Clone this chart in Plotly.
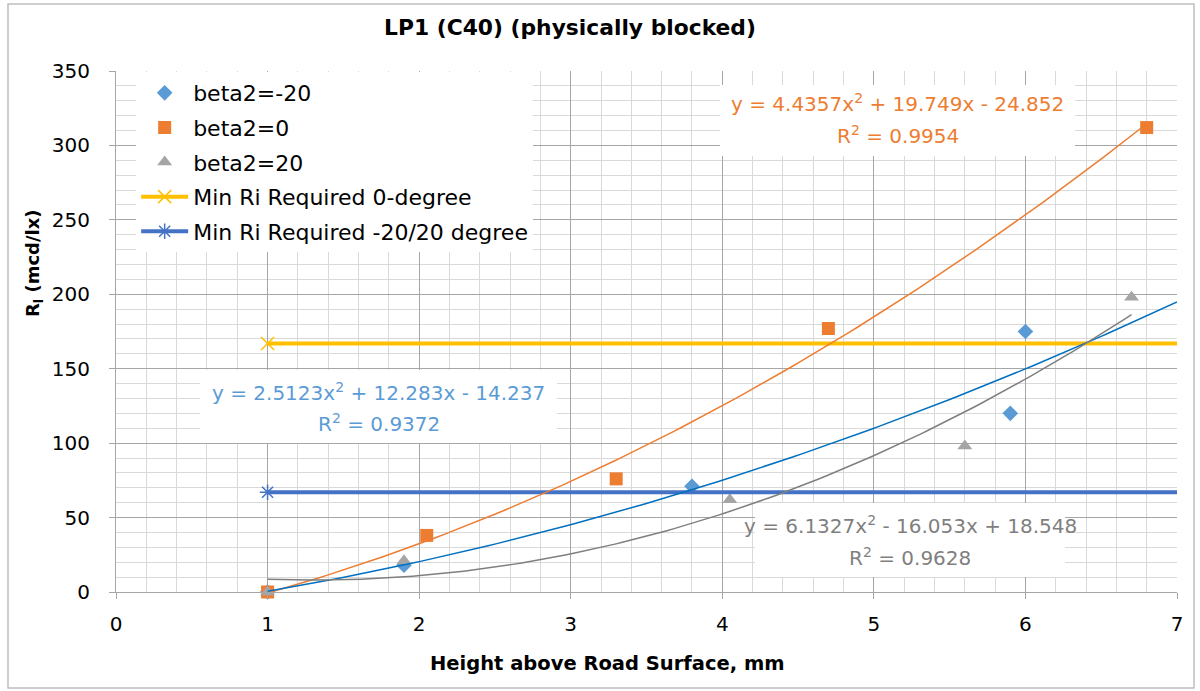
import plotly.graph_objects as go
import numpy as np

# ---- data ----
x_m20 = [1, 1.9, 3.8, 5.9, 6.0]
y_m20 = [0, 18, 71, 120, 175]
x_0 = [1, 2.05, 3.3, 4.7, 6.8]
y_0 = [0, 38, 76, 177, 312]
x_20 = [1, 1.9, 4.05, 5.6, 6.7]
y_20 = [0, 21, 62, 98, 198]

min_req_0_x = [1, 8]
min_req_0_y = [167, 167]
min_req_20_x = [1, 8]
min_req_20_y = [67, 67]

# trendline coefficients (a, b, c) for y = a x^2 + b x + c, and x-span
coef_m20 = (2.5123, 12.283, -14.237)
coef_0 = (4.4357, 19.749, -24.852)
coef_20 = (6.1327, -16.053, 18.548)
r2_m20 = "0.9372"
r2_0 = "0.9954"
r2_20 = "0.9628"
span_m20 = (1, 7)
span_0 = (1, 6.8)
span_20 = (1, 6.7)

C_BLUE = "#5B9BD5"
C_ORANGE = "#ED7D31"
C_GRAY = "#A5A5A5"
C_YELLOW = "#FFC000"
C_DBLUE = "#4472C4"
FONT = "DejaVu Sans"

def trend(coef, span):
    xs = np.linspace(span[0], span[1], 120)
    a, b, c = coef
    return xs, a * xs**2 + b * xs + c

fig = go.Figure()
fig.add_trace(go.Scatter(x=x_m20, y=y_m20, mode="markers", name="beta2=-20", legendgroup="g1",
                         marker=dict(symbol="diamond", size=12, color=C_BLUE), cliponaxis=False))
fig.add_trace(go.Scatter(x=x_0, y=y_0, mode="markers", name="beta2=0", legendgroup="g2",
                         marker=dict(symbol="square", size=13, color=C_ORANGE), cliponaxis=False))
fig.add_trace(go.Scatter(x=x_20, y=y_20, mode="markers", name="beta2=20", legendgroup="g3",
                         marker=dict(symbol="triangle-up", size=13, color=C_GRAY), cliponaxis=False))
fig.add_trace(go.Scatter(x=min_req_0_x, y=min_req_0_y, mode="lines+markers", name="Min Ri Required 0-degree",
                         legendgroup="g4", line=dict(color=C_YELLOW, width=4),
                         marker=dict(symbol="x-thin", size=13, color=C_YELLOW, line=dict(color=C_YELLOW, width=1.5))))
fig.add_trace(go.Scatter(x=min_req_20_x, y=min_req_20_y, mode="lines+markers", name="Min Ri Required -20/20 degree",
                         legendgroup="g5", line=dict(color=C_DBLUE, width=4),
                         marker=dict(symbol="asterisk-open", size=13, color=C_DBLUE, line=dict(color=C_DBLUE, width=1.5))))

for coef, span, col in [(coef_0, span_0, C_ORANGE), (coef_m20, span_m20, "#0070C0"), (coef_20, span_20, "#7F7F7F")]:
    tx, ty = trend(coef, span)
    fig.add_trace(go.Scatter(x=tx, y=ty, mode="lines", showlegend=False,
                             line=dict(color=col, width=1.5), hoverinfo="skip"))

def eq_line(coef):
    a, b, c = coef
    sb = "+" if b >= 0 else "-"
    sc = "+" if c >= 0 else "-"
    return f"y = {a}x<sup>2</sup> {sb} {abs(b)}x {sc} {abs(c)}"

# (coef, r2, colour, box x0, x1, y0, y1, line1 y, line2 y)
labels = [
    (coef_0, r2_0, C_ORANGE, 3.985, 6.327, 292.9, 340.6, 328.5, 307.0),
    (coef_m20, r2_m20, C_BLUE, 0.554, 2.910, 100.1, 149.1, 134.4, 113.5),
    (coef_20, r2_20, "#7F7F7F", 4.216, 6.261, 10.1, 59.8, 45.0, 23.5),
]
shapes = [dict(type="rect", xref="paper", yref="paper",
               x0=-108/1061, x1=1+17/1061, y0=-96/521, y1=1+67/521,
               line=dict(color="#BFBFBF", width=1.5), layer="below")]
for coef, r2, col, bx0, bx1, by0, by1, l1, l2 in labels:
    shapes.append(dict(type="rect", xref="x", yref="y", x0=bx0, x1=bx1, y0=by0, y1=by1,
                       fillcolor="white", line=dict(width=0), layer="between"))
    xc = (bx0 + bx1) / 2
    fig.add_annotation(x=xc, y=l1, xref="x", yref="y", text=eq_line(coef), showarrow=False,
                       font=dict(family=FONT, size=20, color=col))
    fig.add_annotation(x=xc, y=l2, xref="x", yref="y", text=f"R<sup>2</sup> = {r2}", showarrow=False,
                       font=dict(family=FONT, size=20, color=col))

# axis titles as annotations (placed like the reference)
fig.add_annotation(x=(607-116)/1061, y=-(663-592)/521, xref="paper", yref="paper",
                   text="<b>Height above Road Surface, mm</b>", showarrow=False,
                   font=dict(family=FONT, size=19.5, color="black"), yanchor="middle")
fig.add_annotation(x=-(116-34)/1061, y=(592-263)/521, xref="paper", yref="paper",
                   text="<b>R<sub>l</sub> (mcd/lx)</b>", showarrow=False, textangle=-90,
                   font=dict(family=FONT, size=18, color="black"), xanchor="center", yanchor="middle")

fig.update_layout(
    width=1200, height=691,
    margin=dict(l=116, r=23, t=71, b=99),
    paper_bgcolor="white", plot_bgcolor="white",
    font=dict(family=FONT, size=20, color="black"),
    title=dict(text="<b>LP1 (C40) (physically blocked)</b>", x=570/1200, xref="container",
               y=1-27/691, yref="container", xanchor="center", yanchor="middle",
               font=dict(family=FONT, size=21.8, color="black")),
    showlegend=True,
    legend=dict(x=0.019, y=0.998, xanchor="left", yanchor="top", bgcolor="white",
                font=dict(family=FONT, size=22), borderwidth=0, tracegroupgap=3, itemwidth=47),
    shapes=shapes,
)

fig.update_xaxes(range=[0, 7], dtick=1, tick0=0, showgrid=True, gridcolor="#A6A6A6", gridwidth=1,
                 minor=dict(dtick=0.2, showgrid=True, gridcolor="#D9D9D9", gridwidth=1),
                 showline=True, linecolor="#A6A6A6", ticks="outside", tickcolor="#A6A6A6", ticklen=6,
                 zeroline=False, mirror=False, ticklabelstandoff=8,
                 tickfont=dict(family=FONT, size=20))
fig.update_yaxes(range=[0, 350], dtick=50, tick0=0, showgrid=True, gridcolor="#A6A6A6", gridwidth=1,
                 minor=dict(dtick=10, showgrid=True, gridcolor="#D9D9D9", gridwidth=1),
                 showline=True, linecolor="#A6A6A6", ticks="outside", tickcolor="#A6A6A6", ticklen=6,
                 zeroline=False, ticklabelstandoff=15,
                 tickfont=dict(family=FONT, size=20))

fig.write_html("out.html")
